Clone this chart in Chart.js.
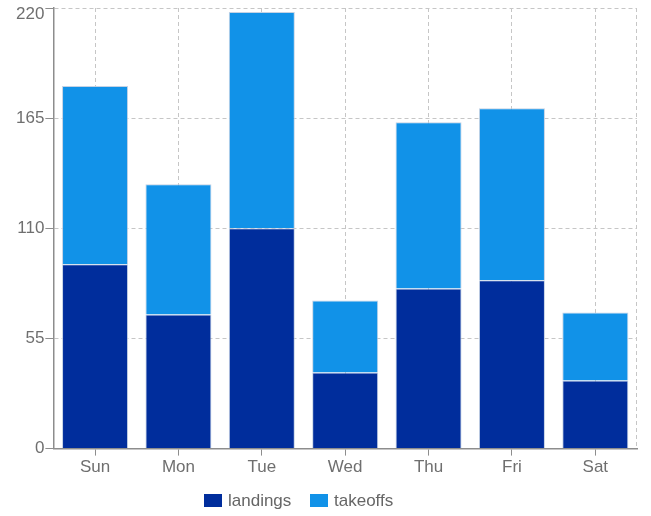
<!DOCTYPE html>
<html>
<head>
<meta charset="utf-8">
<script src="https://cdn.jsdelivr.net/npm/chart.js@4/dist/chart.umd.min.js"></script>
<style>
  html, body { margin: 0; padding: 0; background: #fff; }
  #wrap { position: relative; width: 651px; height: 516px; }
  #legend { position: absolute; left: 0; top: 490px; width: 651px; height: 24px;
            font-family: "Liberation Sans", Arial, sans-serif; font-size: 17px; color: #666; }
  .item { position: absolute; top: 0; height: 24px; line-height: 22px; white-space: nowrap; }
  .box { display: inline-block; width: 18px; height: 13px; vertical-align: middle; margin-right: 6px; position: relative; top: -1px; }
</style>
</head>
<body>
<div id="wrap">
  <canvas id="c" width="651" height="516"></canvas>
  <div id="legend"></div>
</div>
<script>
// Weekly flight counts
const days = ["Sun", "Mon", "Tue", "Wed", "Thu", "Fri", "Sat"];
const landings = [92, 67, 110, 38, 80, 84, 34];
const takeoffs = [89, 65, 108, 36, 83, 86, 34];
const yTicks = [0, 55, 110, 165, 220];
const yMax = yTicks[yTicks.length - 1];

const seriesNames = ["landings", "takeoffs"];
const seriesColors = ["#002d9c", "#1192e8"];

// Dashed frame edge along the right side of the plot area
const rightEdge = {
  id: "rightEdge",
  beforeDatasetsDraw(chart) {
    const { ctx, chartArea } = chart;
    ctx.save();
    ctx.strokeStyle = "#c6c6c6";
    ctx.lineWidth = 1;
    ctx.setLineDash([4, 3]);
    ctx.beginPath();
    ctx.moveTo(chartArea.right - 0.5, chartArea.top);
    ctx.lineTo(chartArea.right - 0.5, chartArea.bottom);
    ctx.stroke();
    ctx.restore();
  }
};

const family = "'Liberation Sans', Arial, sans-serif";
const xFont = { family, size: 17 };

new Chart(document.getElementById("c"), {
  type: "bar",
  data: {
    labels: days,
    datasets: [
      { label: seriesNames[0], data: landings, backgroundColor: seriesColors[0],
        borderColor: "rgba(190,205,225,0.9)", borderWidth: 1 },
      { label: seriesNames[1], data: takeoffs, backgroundColor: seriesColors[1],
        borderColor: "rgba(190,205,225,0.9)", borderWidth: 1 }
    ]
  },
  options: {
    responsive: false,
    animation: false,
    layout: { padding: { left: 15, right: 14, top: 0, bottom: 36 } },
    plugins: { legend: { display: false }, tooltip: { enabled: false } },
    datasets: { bar: { categoryPercentage: 0.8, barPercentage: 0.99 } },
    scales: {
      x: {
        stacked: true,
        grid: { offset: false, color: "#c6c6c6", tickBorderDash: [],
                tickColor: "#8d8d8d", tickLength: 7, drawTicks: true },
        border: { display: true, color: "#8d8d8d", width: 1.5, dash: [4, 3] },
        ticks: { color: "#6f6f6f", font: xFont, padding: 2 }
      },
      y: {
        stacked: true,
        min: 0, max: yMax,
        afterBuildTicks(axis) { axis.ticks = yTicks.map(v => ({ value: v })); },
        // the top label sits just under its tick so it stays inside the canvas
        afterFit(axis) { axis.paddingTop = 8; },
        grid: { color: "#c6c6c6", tickBorderDash: [],
                tickColor: "#8d8d8d", tickLength: 8, drawTicks: true },
        border: { display: true, color: "#8d8d8d", width: 1.5, dash: [4, 3] },
        ticks: {
          color: "#6f6f6f",
          padding: 1,
          font: (ctx) => (ctx.tick && ctx.tick.value === yMax)
            ? { family, size: 17, lineHeight: 0.7 }
            : { family, size: 17 },
          callback: (value) => value === yMax ? ["", String(value)] : String(value)
        }
      }
    }
  },
  plugins: [rightEdge]
});

// Legend below the chart
const legend = document.getElementById("legend");
const legendLeft = [204, 310];
seriesNames.forEach((name, i) => {
  const item = document.createElement("div");
  item.className = "item";
  item.style.left = legendLeft[i] + "px";
  const box = document.createElement("span");
  box.className = "box";
  box.style.background = seriesColors[i];
  item.appendChild(box);
  item.appendChild(document.createTextNode(name));
  legend.appendChild(item);
});
</script>
</body>
</html>
